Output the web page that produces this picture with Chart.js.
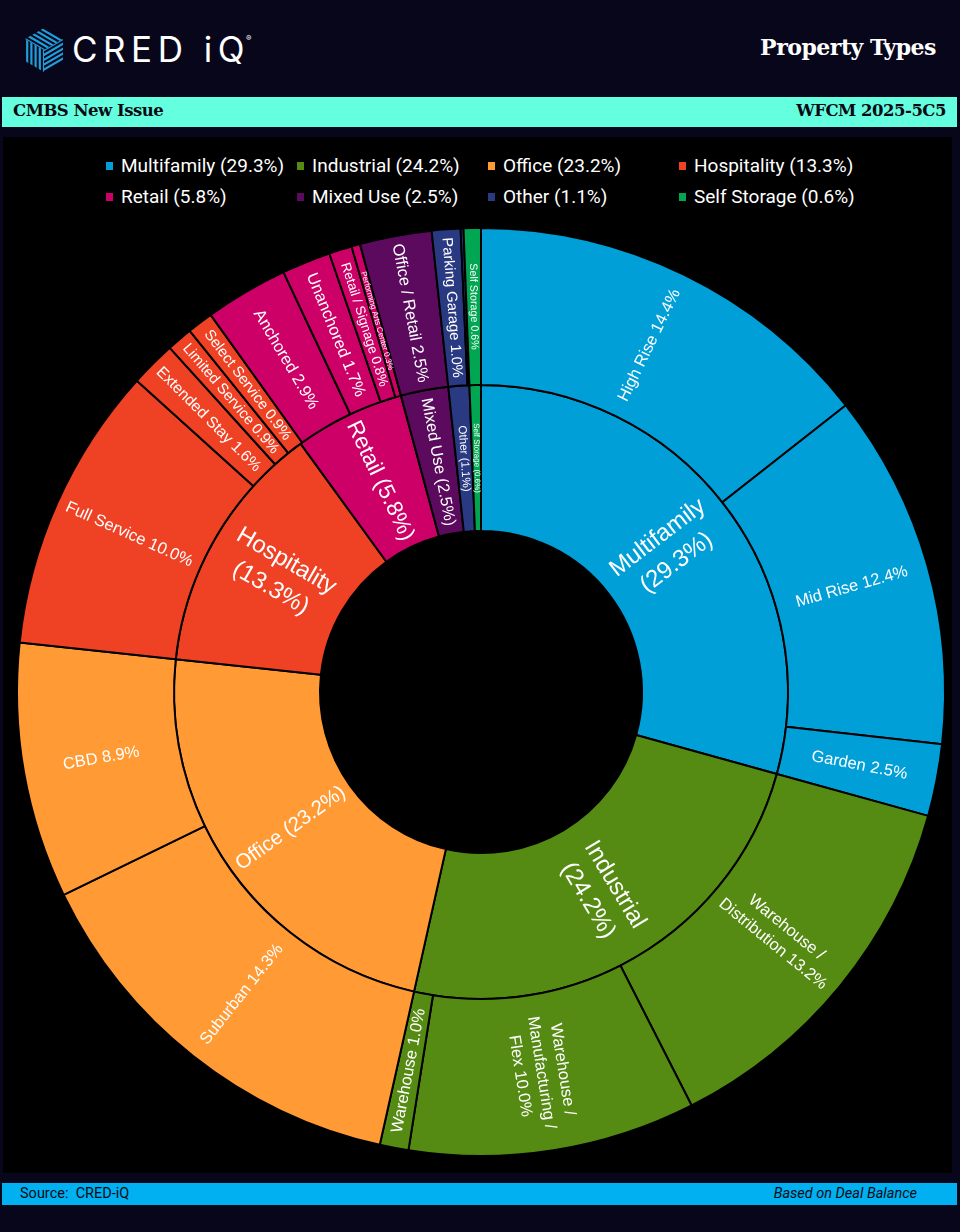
<!DOCTYPE html>
<html>
<head>
<meta charset="utf-8">
<script src="https://cdn.jsdelivr.net/npm/chart.js@4.4.1/dist/chart.umd.min.js"></script>
<style>
  html, body { margin:0; padding:0; width:960px; height:1232px; overflow:hidden; background:#07061a; }
  #panel { position:absolute; left:3px; top:137px; width:949px; height:1036px; background:#000; }
  #teal { position:absolute; left:2px; top:97px; width:955px; height:30px; background:#64FFDE; }
  #teal span { position:absolute; top:4px; font-family:"DejaVu Serif",serif; font-weight:bold; font-size:16.5px; color:#0a0a14; letter-spacing:-0.5px; }
  #foot { position:absolute; left:2px; top:1183px; width:955px; height:22px; background:#00B0F0; }
  #foot span { position:absolute; top:2px; font-family:"Roboto",sans-serif; font-size:14.5px; color:#0a0a14; }
  #title { position:absolute; right:24px; top:34px; font-family:"DejaVu Serif",serif; font-weight:bold; font-size:22px; color:#fff; letter-spacing:-0.5px; }
  #brand { position:absolute; left:72px; top:28px; font-family:"Inter","Lato",sans-serif; font-weight:400; font-size:35px; letter-spacing:5.5px; color:#fff; }
  #brand sup { font-size:8px; letter-spacing:0; vertical-align:top; position:relative; top:5px; left:-4px; }
  #logo { position:absolute; left:24px; top:27px; }
  .lg { position:absolute; font-family:"Roboto",sans-serif; font-size:19px; color:#fff; white-space:nowrap; }
  .sq { position:absolute; width:7px; height:8px; }
  #chartWrap { position:absolute; left:1px; top:222px; width:960px; height:940px; }
</style>
</head>
<body>
<div id="panel"></div>
<svg id="logo" width="40" height="46" viewBox="0 0 40 46"></svg>
<div id="brand">CRED iQ<sup>®</sup></div>
<div id="title">Property Types</div>
<div id="teal"><span style="left:11px">CMBS New Issue</span><span style="right:11px">WFCM 2025-5C5</span></div>
<div id="legend"></div>
<div id="chartWrap"><canvas id="c" width="960" height="940"></canvas></div>
<div id="foot"><span style="left:18px">Source:&nbsp; CRED-iQ</span><span style="right:40px;font-style:italic">Based on Deal Balance</span></div>
<script>
// ---------- data ----------
const categories = ['Multifamily','Industrial','Office','Hospitality','Retail','Mixed Use','Other','Self Storage'];
const categoryValues = [29.3, 24.2, 23.2, 13.3, 5.8, 2.5, 1.1, 0.6];
const categoryColors = ['#009FD8','#558B12','#FF9A35','#EF4123','#CC0066','#5B0A5E','#2A3A82','#00A651'];
const categoryWrap = [true, true, false, true, false, false, false, false];

const subCategories = ['High Rise','Mid Rise','Garden','Warehouse /\nDistribution','Warehouse /\nManufacturing /\nFlex','Warehouse',
  'Suburban','CBD','Full Service','Extended Stay','Limited Service','Select Service',
  'Anchored','Unanchored','Retail / Signage','Performing Arts Center','Office / Retail','Parking Garage','Other','Self Storage'];
const subValues = [14.4, 12.4, 2.5, 13.2, 10.0, 1.0, 14.3, 8.9, 10.0, 1.6, 0.9, 0.9, 2.9, 1.7, 0.8, 0.3, 2.5, 1.0, 0.1, 0.6];
const subParents = [0,0,0,1,1,1,2,2,3,3,3,3,4,4,4,4,5,6,6,7];

// ---------- logo ----------
(function(){
  const svg = document.getElementById('logo');
  const faces = [
    {pts:'20,1 39,12 20,23 1,12', dir:[1,0.58]},
    {pts:'1,12 20,23 20,45 1,34', dir:[0,1]},
    {pts:'20,23 39,12 39,34 20,45', dir:[1,-0.58]}
  ];
  let html = '<defs>';
  faces.forEach((f,i)=>{ html += `<clipPath id="cp${i}"><polygon points="${f.pts}"/></clipPath>`; });
  html += '</defs>';
  faces.forEach((f,i)=>{
    const [dx,dy] = f.dir; const len = Math.hypot(dx,dy); const ux=dx/len, uy=dy/len;
    const nx=-uy, ny=ux;
    html += `<g clip-path="url(#cp${i})">`;
    for (let k=-14;k<=14;k++){
      const cx=20+nx*k*4.2, cy=23+ny*k*4.2;
      html += `<line x1="${cx-ux*60}" y1="${cy-uy*60}" x2="${cx+ux*60}" y2="${cy+uy*60}" stroke="#1E9FDC" stroke-width="2.2"/>`;
    }
    html += '</g>';
  });
  svg.innerHTML = html;
})();

// ---------- legend ----------
(function(){
  const lg = document.getElementById('legend');
  categories.forEach((c,i)=>{
    const col = i % 4, row = Math.floor(i/4);
    const sq = document.createElement('div');
    sq.className='sq'; sq.style.background=categoryColors[i];
    sq.style.left=(106+col*191)+'px'; sq.style.top=(162+row*31)+'px';
    lg.appendChild(sq);
    const t = document.createElement('div');
    t.className='lg'; t.textContent = `${c} (${categoryValues[i].toFixed(1)}%)`;
    t.style.left=(121+col*191)+'px'; t.style.top=(154+row*31)+'px';
    lg.appendChild(t);
  });
})();

// ---------- chart ----------
const subLabels = subCategories.map((s,i)=> subValues[i] >= 0.2 ? `${s} ${subValues[i].toFixed(1)}%` : '');
const catLabels = categories.map((c,i)=> `${c}${categoryWrap[i] ? '\n' : ' '}(${categoryValues[i].toFixed(1)}%)`);
const LABEL_FONT = '"Liberation Sans", Arial, sans-serif';

const sunLabels = {
  id:'sunLabels',
  afterDatasetsDraw(chart){
    const ctx = chart.ctx;
    const pad = 8;
    chart.data.datasets.forEach((ds, di)=>{
      const meta = chart.getDatasetMeta(di);
      meta.data.forEach((arc, i)=>{
        const text = ds.labelTexts[i];
        if (!text) return;
        const p = arc.getProps(['x','y','startAngle','endAngle','innerRadius','outerRadius'], true);
        const lines = text.split('\n');
        const maxF = ds.maxFont;
        ctx.font = `${maxF}px ${LABEL_FONT}`;
        const w1 = Math.max(...lines.map(l=>ctx.measureText(l).width)) / maxF;
        const h1 = lines.length*1.2;
        const ring = p.outerRadius - p.innerRadius - 2*pad;
        const rc = (p.innerRadius + p.outerRadius)/2;
        const half = (p.endAngle - p.startAngle)/2;
        const s = Math.sin(Math.min(half, Math.PI/2));
        const f = Math.max(8, Math.min(maxF, ring / w1, 2*rc*s/(h1 + w1*s)));
        const mid = (p.startAngle + p.endAngle)/2;
        const norm = ((mid % (2*Math.PI)) + 2*Math.PI) % (2*Math.PI);
        const rot = (norm > Math.PI/2 && norm < 3*Math.PI/2) ? mid + Math.PI : mid;
        ctx.save();
        ctx.translate(p.x + rc*Math.cos(mid), p.y + rc*Math.sin(mid));
        ctx.rotate(rot);
        ctx.fillStyle = '#ffffff';
        ctx.textAlign = 'center';
        ctx.textBaseline = 'middle';
        ctx.font = `${f}px ${LABEL_FONT}`;
        const lh = f*1.3;
        lines.forEach((l,k)=> ctx.fillText(l, 0, (k-(lines.length-1)/2)*lh));
        ctx.restore();
      });
    });
  }
};

new Chart(document.getElementById('c'), {
  type:'doughnut',
  data:{
    labels: subCategories,
    datasets:[
      { data: subValues, backgroundColor: subParents.map(p=>categoryColors[p]), borderColor:'#000', borderWidth:2,
        weight:157, labelTexts: subLabels, maxFont:16.5 },
      { data: categoryValues, backgroundColor: categoryColors, borderColor:'#000', borderWidth:2,
        weight:146, labelTexts: catLabels, maxFont:24 }
    ]
  },
  options:{
    responsive:false,
    animation:false,
    radius:464,
    cutout:'34.7%',
    layout:{ padding:0 },
    plugins:{ legend:{display:false}, tooltip:{enabled:false} }
  },
  plugins:[sunLabels]
});
</script>
</body>
</html>
